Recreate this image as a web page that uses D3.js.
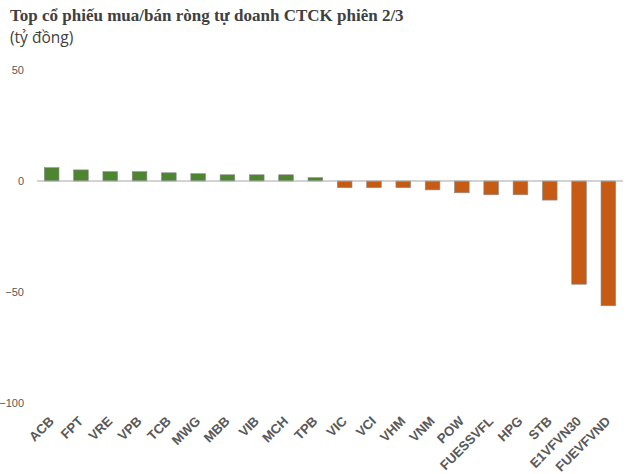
<!DOCTYPE html>
<html><head><meta charset="utf-8">
<script src="https://cdn.jsdelivr.net/npm/d3@7"></script>
<style>body{margin:0;background:#fff}svg{display:block}</style>
</head><body>
<script>
const categories = ["ACB","FPT","VRE","VPB","TCB","MWG","MBB","VIB","MCH","TPB","VIC","VCI","VHM","VNM","POW","FUESSVFL","HPG","STB","E1VFVN30","FUEVFVND"];
const values = [6.0,5.0,4.2,4.2,3.7,3.3,2.8,2.8,2.8,1.5,-3.0,-3.0,-3.0,-4.0,-5.3,-6.2,-6.2,-8.6,-46.5,-56.2];
const yTicks = [50,0,-50,-100];
const title = "Top cổ phiếu mua/bán ròng tự doanh CTCK phiên 2/3";
const subtitle = "(tỷ đồng)";

const W=630,H=474;
const svg=d3.select("body").append("svg").attr("width",W).attr("height",H);
svg.append("text").attr("x",10).attr("y",21).text(title)
  .attr("font-family","'Liberation Serif','Times New Roman',serif").attr("font-weight","bold")
  .attr("font-size",17).attr("fill","#404040");
svg.append("text").attr("x",10).attr("y",43).text(subtitle)
  .attr("font-family","'Open Sans','Liberation Sans',sans-serif")
  .attr("font-size",15.5).attr("fill","#404040");

const x=d3.scaleBand().domain(categories).range([37,623]).paddingInner(0.5).paddingOuter(0.25);
const y=d3.scaleLinear().domain([-100,50]).range([403,70]);

const g=svg.append("g");
g.selectAll("rect").data(categories).join("rect")
  .attr("x",d=>x(d)).attr("width",x.bandwidth())
  .attr("y",(d,i)=>y(Math.max(0,values[i])))
  .attr("height",(d,i)=>Math.abs(y(values[i])-y(0)))
  .attr("fill",(d,i)=>values[i]>=0?"#4d8530":"#c65b15")
  .attr("stroke","#8a8a8a").attr("stroke-width",0.6);

g.append("line").attr("x1",37).attr("x2",623).attr("y1",y(0)).attr("y2",y(0))
  .attr("stroke","#a6a6a6").attr("stroke-width",1);

const ya=svg.append("g").attr("transform","translate(24,0)")
  .call(d3.axisLeft(y).tickValues(yTicks).tickSize(0).tickPadding(0));
ya.select(".domain").remove();
ya.selectAll("text").attr("font-family","'Liberation Sans',Arial,sans-serif")
  .attr("font-size",11).attr("fill","#595959");

const xa=svg.append("g").attr("transform","translate(0,403)")
  .call(d3.axisBottom(x).tickSize(0).tickPadding(0));
xa.select(".domain").remove();
xa.selectAll("text")
  .attr("font-family","'Liberation Sans',Arial,sans-serif").attr("font-size",13.2)
  .attr("font-weight","bold").attr("fill","#595959")
  .attr("text-anchor","end").attr("dy",null).attr("y",0)
  .attr("transform","translate(3,19) rotate(-45)");
</script>
</body></html>
